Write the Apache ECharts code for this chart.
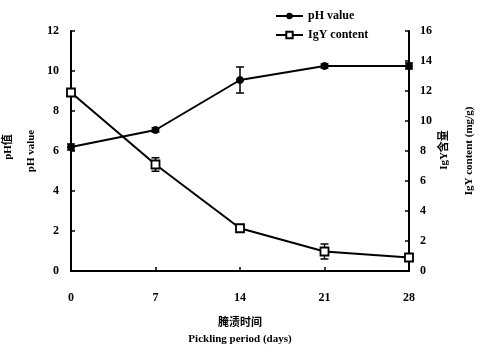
<!DOCTYPE html>
<html>
<head>
<meta charset="utf-8">
<script src="https://cdn.jsdelivr.net/npm/echarts@6/dist/echarts.min.js"></script>
<style>
  html, body { margin: 0; padding: 0; background: #fff; }
  #chart { width: 478px; height: 356px; }
</style>
</head>
<body>
<div id="chart"></div>
<script>
// Pickling days
var days = [0, 7, 14, 21, 28];
// pH value (left axis) and its error
var phValues = [6.2, 7.05, 9.55, 10.25, 10.25];
var phErrors = [0.15, 0.1, 0.65, 0.1, 0.15];
// IgY content, mg/g (right axis) and its error
var igyValues = [11.9, 7.1, 2.85, 1.3, 0.9];
var igyErrors = [0.15, 0.45, 0.15, 0.5, 0.15];

var FONT = "'Liberation Serif', 'Noto Sans CJK SC', serif";

function pairs(xs, ys) {
  return xs.map(function (x, i) { return [x, ys[i]]; });
}
function errData(xs, ys, es) {
  return xs.map(function (x, i) { return [x, ys[i] - es[i], ys[i] + es[i]]; });
}
function errorBarRender(params, api) {
  var x = api.value(0);
  var lo = api.coord([x, api.value(1)]);
  var hi = api.coord([x, api.value(2)]);
  var w = 4;
  var style = { stroke: '#000', lineWidth: 1.5 };
  return {
    type: 'group',
    children: [
      { type: 'line', shape: { x1: lo[0], y1: lo[1], x2: hi[0], y2: hi[1] }, style: style },
      { type: 'line', shape: { x1: lo[0] - w, y1: lo[1], x2: lo[0] + w, y2: lo[1] }, style: style },
      { type: 'line', shape: { x1: hi[0] - w, y1: hi[1], x2: hi[0] + w, y2: hi[1] }, style: style }
    ]
  };
}

// Vertical axis title, reading bottom to top
function sideTitle(text, x, y) {
  return {
    type: 'text',
    x: x, y: y,
    rotation: Math.PI / 2,
    style: {
      text: text,
      fill: '#000',
      font: 'bold 11px ' + FONT,
      textAlign: 'center',
      textVerticalAlign: 'middle'
    }
  };
}

var axisText = { color: '#000', fontFamily: FONT, fontWeight: 'bold', fontSize: 12 };

var chart = echarts.init(document.getElementById('chart'), null, { renderer: 'canvas' });
chart.setOption({
  animation: false,
  backgroundColor: '#fff',
  grid: { left: 71, right: 69, top: 31, bottom: 85, containLabel: false, outerBoundsMode: 'none' },
  legend: {
    orient: 'vertical',
    left: 270,
    top: 5,
    itemGap: 7,
    itemWidth: 27,
    itemHeight: 8,
    textStyle: { color: '#000', fontFamily: FONT, fontWeight: 'bold', fontSize: 12 },
    data: ['pH value', 'IgY content']
  },
  graphic: [
    sideTitle('pH值', 8, 147),
    sideTitle('pH value', 31, 151),
    sideTitle('IgY含量', 444, 150),
    sideTitle('IgY content (mg/g)', 469, 151)
  ],
  xAxis: {
    type: 'value',
    min: 0, max: 28, interval: 7,
    name: '腌渍时间\nPickling period (days)',
    nameLocation: 'middle',
    nameGap: 44,
    nameTextStyle: { color: '#000', fontFamily: FONT, fontWeight: 'bold', fontSize: 11, lineHeight: 16 },
    axisLine: { lineStyle: { color: '#000', width: 2 } },
    axisTick: { inside: true, length: 4, lineStyle: { color: '#000', width: 1.5 } },
    axisLabel: Object.assign({ margin: 21 }, axisText),
    splitLine: { show: false }
  },
  yAxis: [
    {
      type: 'value',
      min: 0, max: 12, interval: 2,
      axisLine: { show: true, lineStyle: { color: '#000', width: 2 } },
      axisTick: { show: true, inside: true, length: 4, lineStyle: { color: '#000', width: 1.5 } },
      axisLabel: Object.assign({ margin: 12 }, axisText),
      splitLine: { show: false }
    },
    {
      type: 'value',
      min: 0, max: 16, interval: 2,
      axisLine: { show: true, lineStyle: { color: '#000', width: 2 } },
      axisTick: { show: true, inside: true, length: 4, lineStyle: { color: '#000', width: 1.5 } },
      axisLabel: Object.assign({ margin: 11 }, axisText),
      splitLine: { show: false }
    }
  ],
  series: [
    {
      name: 'pH value',
      type: 'line',
      yAxisIndex: 0,
      data: pairs(days, phValues),
      symbol: 'circle',
      symbolSize: 7,
      lineStyle: { color: '#000', width: 2 },
      itemStyle: { color: '#000', borderColor: '#000' },
      z: 3
    },
    {
      name: 'IgY content',
      type: 'line',
      yAxisIndex: 1,
      data: pairs(days, igyValues),
      symbol: 'rect',
      symbolSize: 8,
      lineStyle: { color: '#000', width: 2 },
      itemStyle: { color: '#fff', borderColor: '#000', borderWidth: 1.8 },
      z: 3
    },
    {
      type: 'custom',
      yAxisIndex: 0,
      renderItem: errorBarRender,
      data: errData(days, phValues, phErrors),
      z: 2,
      silent: true
    },
    {
      type: 'custom',
      yAxisIndex: 1,
      renderItem: errorBarRender,
      data: errData(days, igyValues, igyErrors),
      z: 2,
      silent: true
    }
  ]
});
</script>
</body>
</html>
